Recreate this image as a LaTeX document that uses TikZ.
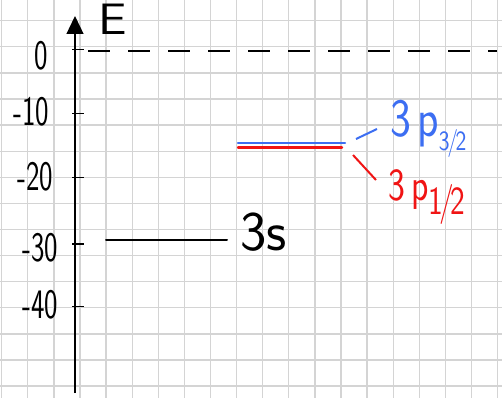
\documentclass[tikz,border=0pt]{standalone}
\usetikzlibrary{arrows.meta}
\definecolor{gridc}{HTML}{D4D4D4}
\definecolor{bluel}{HTML}{3C6EF2}
\definecolor{redl}{HTML}{F01414}
\begin{document}
\begin{tikzpicture}[x=1pt,y=-1pt,
  gridline/.style={gridc, line width=1.3pt},
  axisline/.style={black, line width=1.3pt},
  ticklbl/.style={font=\sffamily\fontsize{42}{42}\selectfont, inner sep=0pt, xscale=0.68, anchor=base},
  lvl/.style={line width=2pt, line cap=round},
  biglbl/.style={font=\sffamily\fontsize{56}{56}\selectfont, inner sep=0pt, anchor=base west}]
\useasboundingbox (0,0) rectangle (502,398);
\fill[white] (0,0) rectangle (502,398);
\foreach \k in {0,...,19} \draw[gridline] ({1.7+26.1*\k},0) -- ({1.7+26.1*\k},398);
\foreach \k in {0,...,14} \draw[gridline] (0,{20.7+26.1*\k}) -- (502,{20.7+26.1*\k});
% axis
\coordinate (axbot) at (75,393);
\coordinate (axtop) at (75,16);
\draw[axisline, -{Triangle[length=18pt,width=17pt]}] (axbot) -- (axtop);
\node[font=\sffamily\fontsize{44}{44}\selectfont, inner sep=0pt, anchor=base west, xscale=1.15] (E) at (98,35) {E};
% ticks
\foreach \y/\n in {49.5/t0, 113.3/t10, 177.7/t20, 244/t30, 306.7/t40}{
  \coordinate (\n a) at (72,\y);
  \coordinate (\n b) at (84,\y);
  \draw[axisline] (\n a) -- (\n b);
}
\node[ticklbl] (l0) at (41,70) {0};
\node[ticklbl] (l10) at (31,125) {-10};
\node[ticklbl] (l20) at (35,190) {-20};
\node[ticklbl] (l30) at (40,261) {-30};
\node[ticklbl] (l40) at (40,318) {-40};
% zero level dashed
\coordinate (z1) at (88,51);
\coordinate (z2) at (497,51);
\draw[line width=2.4pt, dash pattern=on 22pt off 18pt] (z1) -- (z2);
% 3s level
\coordinate (s1) at (106,240);
\coordinate (s2) at (227,240);
\draw[lvl] (s1) -- (s2);
\node[biglbl] (l3s) at (240,250) {3s};
% 3p levels
\coordinate (b1) at (238,143);
\coordinate (b2) at (345,143);
\coordinate (r1) at (238,147.5);
\coordinate (r2) at (342,147.5);
\draw[lvl, bluel, line width=2.4pt] (b1) -- (b2);
\draw[lvl, redl, line width=2.4pt] (r1) -- (r2);
\coordinate (bt1) at (356,139);
\coordinate (bt2) at (377,129);
\draw[bluel, line width=2pt] (bt1) -- (bt2);
\coordinate (rt1) at (353,155);
\coordinate (rt2) at (376,180);
\draw[redl, line width=2pt] (rt1) -- (rt2);
\node[biglbl, bluel, font=\sffamily\fontsize{54}{54}\selectfont, xscale=0.82] (lp32) at (390,136) {3\hspace{8pt}p\raisebox{-14pt}{\fontsize{28}{28}\selectfont 3\kern-3pt/\kern-3pt2}};
\node[biglbl, redl, font=\sffamily\fontsize{46}{46}\selectfont, xscale=0.78] (lp12) at (388,200) {3\hspace{8pt}p\raisebox{-14pt}{\fontsize{40}{40}\selectfont 1\kern-5pt/\kern-4pt2}};
\end{tikzpicture}
\end{document}
